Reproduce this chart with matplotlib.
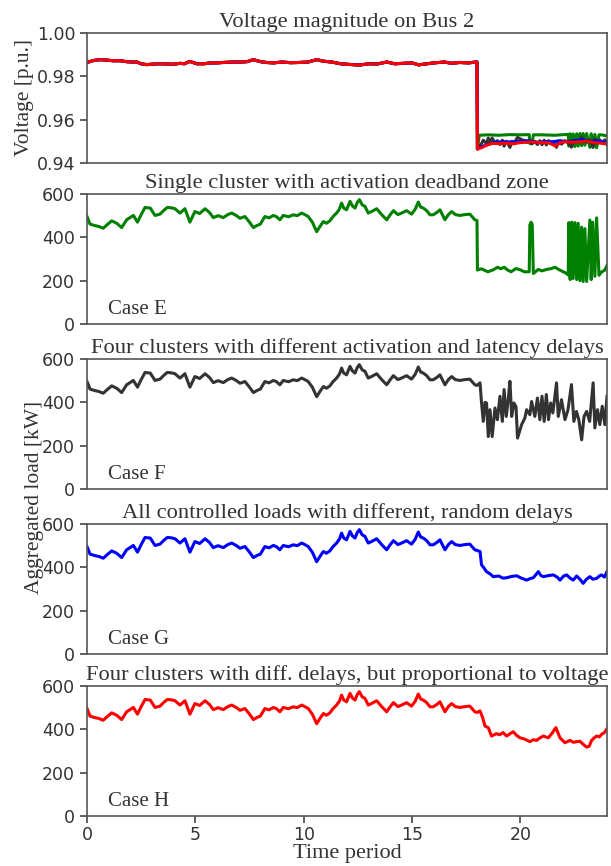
import matplotlib
matplotlib.use("Agg")
import matplotlib.pyplot as plt
import numpy as np

# ---------------- data ----------------
# common aggregated load before the event (kW)
base_t = [0.0, 0.14, 0.37, 0.55, 0.75, 0.95, 1.14, 1.37, 1.6, 1.83, 2.14, 2.33, 2.5, 2.68, 2.92,
          3.14, 3.37, 3.55, 3.71, 3.9, 4.06, 4.29, 4.52, 4.75, 4.98, 5.2, 5.45, 5.65, 5.83, 6.05,
          6.29, 6.5, 6.68, 6.9, 7.06, 7.29, 7.5, 7.68, 7.85, 8.0, 8.21, 8.4, 8.6, 8.75, 8.9, 9.06,
          9.3, 9.52, 9.7, 9.91, 10.05, 10.21, 10.4, 10.6, 10.75, 10.91, 11.05, 11.21, 11.35, 11.52,
          11.65, 11.75, 11.85, 11.98, 12.14, 12.25, 12.37, 12.47, 12.57, 12.7, 12.83, 12.98, 13.15,
          13.37, 13.6, 13.83, 14.0, 14.14, 14.35, 14.52, 14.75, 14.98, 15.15, 15.29, 15.4, 15.52,
          15.68, 15.83, 15.98, 16.15, 16.29, 16.4, 16.52, 16.68, 16.83, 17.0, 17.21, 17.45, 17.67,
          17.9, 18.0]
base_load = [496, 461, 454, 450, 442, 460, 476, 465, 445, 481, 501, 470, 505, 538, 535,
             501, 507, 525, 538, 536, 532, 512, 532, 470, 519, 510, 532, 515, 491, 500,
             491, 505, 512, 500, 488, 496, 470, 445, 455, 461, 496, 490, 501, 495, 481, 501,
             495, 504, 500, 512, 505, 496, 470, 426, 450, 473, 465, 476, 495, 512,
             530, 558, 535, 527, 566, 545, 535, 560, 574, 550, 543, 512, 520,
             532, 505, 481, 505, 523, 505, 512, 523, 507, 530, 563, 540, 535,
             523, 504, 504, 515, 527, 505, 481, 505, 519, 505, 501, 505, 507,
             481, 478]

# Case E: single cluster with activation deadband
e_t = [18.02, 18.2, 18.5, 18.75, 18.95, 19.1, 19.26, 19.4, 19.57, 19.8, 20.0, 20.18, 20.41, 20.44,
       20.5, 20.55, 20.6, 20.83, 21.0, 21.21, 21.4, 21.6, 21.8, 21.98, 22.1, 22.21, 22.24, 22.30,
       22.37, 22.44, 22.52, 22.6, 22.67, 22.75, 22.83, 22.9, 22.98, 23.06, 23.21, 23.27, 23.34,
       23.44, 23.52, 23.63, 23.75, 23.9, 24.0]
e_load = [249, 255, 241, 250, 262, 255, 262, 250, 241, 256, 250, 241, 241, 457,
          470, 457, 233, 252, 245, 252, 255, 262, 250, 241, 235, 226, 468, 205,
          470, 210, 468, 205, 465, 200, 447, 196, 440, 196, 480, 205, 470,
          220, 490, 225, 240, 249, 270]

# Case F: four clusters with activation and latency delays
f_t = [18.14, 18.21, 18.29, 18.37, 18.44, 18.52, 18.6, 18.7, 18.83, 18.94, 19.06, 19.17, 19.25,
       19.35, 19.44, 19.52, 19.6, 19.7, 19.8, 19.87, 20.06, 20.21, 20.29, 20.44, 20.52, 20.67,
       20.79, 20.9, 21.0, 21.1, 21.2, 21.3, 21.4, 21.5, 21.67, 21.75, 21.9, 22.06, 22.2, 22.36,
       22.47, 22.59, 22.7, 22.83, 22.94, 23.06, 23.2, 23.36, 23.44, 23.56, 23.67, 23.78, 23.9, 24.0]
f_load = [490, 397, 312, 400, 397, 242, 366, 242, 374, 320, 428, 312, 459,
          335, 412, 497, 335, 397, 380, 235, 297, 328, 366, 343, 404, 335,
          420, 320, 428, 312, 436, 320, 397, 351, 490, 335, 412, 320, 366, 482,
          312, 358, 320, 227, 335, 358, 312, 490, 282, 366, 297, 382, 297, 428]

# Case G: all controlled loads with random delays
g_t = [18.14, 18.21, 18.3, 18.44, 18.6, 18.75, 19.0, 19.2, 19.37, 19.6, 19.83, 20.05, 20.29, 20.45,
       20.6, 20.83, 20.95, 21.06, 21.3, 21.52, 21.7, 21.83, 22.0, 22.14, 22.3, 22.44, 22.6, 22.75,
       22.9, 23.05, 23.21, 23.35, 23.52, 23.65, 23.75, 23.88, 24.0]
g_load = [473, 411, 400, 380, 370, 357, 360, 350, 352, 358, 361, 350, 341, 348,
          352, 380, 362, 357, 362, 365, 355, 341, 360, 365, 350, 341, 360, 345,
          326, 345, 357, 345, 349, 360, 365, 355, 380]

# Case H: delays proportional to voltage
h_t = [18.14, 18.26, 18.37, 18.52, 18.67, 18.9, 19.05, 19.2, 19.37, 19.5, 19.67, 19.83, 19.98,
       20.2, 20.44, 20.6, 20.75, 20.9, 21.06, 21.29, 21.45, 21.64, 21.75, 21.83, 22.06, 22.29,
       22.45, 22.6, 22.75, 22.9, 23.06, 23.18, 23.29, 23.4, 23.52, 23.65, 23.75, 23.88, 23.98]
h_load = [485, 454, 415, 408, 369, 380, 375, 385, 369, 378, 389, 372, 361,
          355, 343, 352, 349, 360, 369, 361, 380, 408, 380, 361, 338, 349,
          340, 343, 345, 331, 318, 322, 349, 360, 369, 365, 377, 385, 400]

# voltage on bus 2 before the event (p.u.)
vbase_t = [0.0, 0.3, 0.61, 0.9, 1.2, 1.53, 1.8, 2.1, 2.3, 2.5, 2.75, 3.0, 3.3, 3.67, 4.0, 4.3, 4.5,
           4.75, 5.06, 5.4, 5.7, 5.98, 6.3, 6.75, 7.1, 7.4, 7.67, 8.0, 8.28, 8.6, 9.0, 9.4, 9.82,
           10.2, 10.6, 10.9, 11.3, 11.7, 12.1, 12.57, 13.0, 13.4, 13.83, 14.2, 14.6, 15.0, 15.3,
           15.7, 16.0, 16.5, 16.83, 17.2, 17.6, 17.95, 18.0]
vbase = [0.9864, 0.9873, 0.9877, 0.9875, 0.9872, 0.9872, 0.9868, 0.9866, 0.9866, 0.9858, 0.9854,
         0.9856, 0.9858, 0.9857, 0.9856, 0.9860, 0.9858, 0.9869, 0.9858, 0.9858, 0.9862, 0.9862,
         0.9864, 0.9866, 0.9866, 0.9868, 0.9877, 0.9868, 0.9864, 0.9862, 0.9866, 0.9863, 0.9864,
         0.9866, 0.9877, 0.9870, 0.9866, 0.9858, 0.9855, 0.9852, 0.9858, 0.9857, 0.9866, 0.9858,
         0.9860, 0.9862, 0.9853, 0.9858, 0.9862, 0.9866, 0.9860, 0.9864, 0.9862, 0.9866, 0.9866]

ve_t = [18.02, 18.1, 18.5, 19.0, 19.5, 20.0, 20.41, 20.44, 20.55, 20.6, 21.0, 21.6, 22.0, 22.21,
        22.24, 22.30, 22.37, 22.44, 22.52, 22.6, 22.67, 22.75, 22.83, 22.9, 22.98, 23.06, 23.21,
        23.27, 23.34, 23.44, 23.52, 23.63, 23.75, 24.0]
ve = [0.9465, 0.9528, 0.9530, 0.9528, 0.9531, 0.9530, 0.9531, 0.9490, 0.9490, 0.9530, 0.9530,
      0.9528, 0.9531, 0.9532, 0.9478, 0.9535, 0.9476, 0.9534, 0.9476, 0.9535, 0.9478, 0.9536,
      0.9480, 0.9536, 0.9482, 0.9536, 0.9472, 0.9535, 0.9475, 0.9532, 0.9470, 0.9530, 0.9530,
      0.9525]

vf_t = [18.02, 18.21, 18.29, 18.44, 18.52, 18.6, 18.7, 18.83, 18.94, 19.06, 19.17, 19.25, 19.35,
        19.44, 19.52, 19.6, 19.7, 19.87, 20.06, 20.21, 20.29, 20.44, 20.52, 20.67, 20.79, 20.9,
        21.0, 21.1, 21.2, 21.3, 21.4, 21.5, 21.67, 21.75, 21.9, 22.06, 22.2, 22.36, 22.47, 22.59,
        22.7, 22.83, 22.94, 23.06, 23.2, 23.36, 23.44, 23.56, 23.67, 23.78, 23.9, 24.0]
vf = [0.9465, 0.9490, 0.9505, 0.9490, 0.9515, 0.9495, 0.9515, 0.9493, 0.9503, 0.9485, 0.9505,
      0.9478, 0.9500, 0.9488, 0.9472, 0.9500, 0.9490, 0.9518, 0.9508, 0.9502, 0.9495, 0.9500,
      0.9488, 0.9500, 0.9485, 0.9503, 0.9484, 0.9505, 0.9483, 0.9503, 0.9490, 0.9497, 0.9472,
      0.9500, 0.9487, 0.9503, 0.9495, 0.9473, 0.9505, 0.9496, 0.9503, 0.9520, 0.9500, 0.9496,
      0.9505, 0.9472, 0.9510, 0.9495, 0.9507, 0.9492, 0.9507, 0.9485]

vg_t = [18.02, 18.2, 18.5, 18.8, 19.2, 19.6, 20.0, 20.3, 20.6, 20.83, 21.1, 21.5, 21.83, 22.14,
        22.44, 22.9, 23.2, 23.52, 23.75, 24.0]
vg = [0.9465, 0.9475, 0.9485, 0.9495, 0.9498, 0.9497, 0.9500, 0.9503, 0.9500, 0.9494, 0.9499,
      0.9498, 0.9503, 0.9498, 0.9503, 0.9507, 0.9500, 0.9502, 0.9498, 0.9495]

vh_t = [18.02, 18.2, 18.4, 18.67, 19.0, 19.37, 19.67, 19.98, 20.44, 20.75, 21.06, 21.29, 21.64,
        21.83, 22.06, 22.29, 22.6, 22.9, 23.06, 23.29, 23.52, 23.75, 24.0]
vh = [0.9465, 0.9470, 0.9480, 0.9490, 0.9490, 0.9492, 0.9488, 0.9494, 0.9497, 0.9496, 0.9493,
      0.9494, 0.9478, 0.9494, 0.9498, 0.9496, 0.9497, 0.9499, 0.9502, 0.9496, 0.9493, 0.9491,
      0.9488]

titles = ["Voltage magnitude on Bus 2",
          "Single cluster with activation deadband zone",
          "Four clusters with different activation and latency delays",
          "All controlled loads with different, random delays",
          "Four clusters with diff. delays, but proportional to voltage"]
case_labels = ["Case E", "Case F", "Case G", "Case H"]
colors = ["green", "#333333", "blue", "red"]

# ---------------- figure ----------------
TXT = "#333333"
plt.rcParams["font.family"] = "DejaVu Sans"
plt.rcParams["text.color"] = TXT
plt.rcParams["axes.labelcolor"] = TXT
plt.rcParams["xtick.color"] = TXT
plt.rcParams["ytick.color"] = TXT
SERIF = "Liberation Serif"

fig = plt.figure(figsize=(6.11, 8.66), dpi=100)
H = 866.0
W = 611.0
tops = [33, 194, 359, 524, 686]
left, right = 87, 607
axes = []
for tp in tops:
    ax = fig.add_axes([left / W, (H - tp - 130) / H, (right - left) / W, 130 / H])
    axes.append(ax)

for ax in axes:
    for s in ax.spines.values():
        s.set_color("#555555")
        s.set_linewidth(1.2)
    ax.set_xlim(0, 24)
    ax.tick_params(axis="y", labelsize=12.5, length=5, width=1.2, color="#444444")
    ax.tick_params(axis="x", labelsize=12.5, length=5, width=1.2, color="#444444", pad=2.5)

# voltage panel
ax = axes[0]
vt_all = [(ve_t, ve), (vf_t, vf), (vg_t, vg), (vh_t, vh)]
for (tt, vv), c in zip(vt_all, colors):
    ax.plot(vbase_t + tt, vbase + vv, color=c, lw=2.2)
ax.set_ylim(0.94, 1.0)
ax.set_yticks([0.94, 0.96, 0.98, 1.00])
ax.set_yticklabels(["0.94", "0.96", "0.98", "1.00"])
ax.set_ylabel("Voltage [p.u.]", family=SERIF, fontsize=15.5, color=TXT, labelpad=2)

load_tails = [(e_t, e_load), (f_t, f_load), (g_t, g_load), (h_t, h_load)]
for ax, (tt, ll), c, lab in zip(axes[1:], load_tails, colors, case_labels):
    ax.plot(base_t + tt, base_load + ll, color=c, lw=2.2)
    ax.set_ylim(0, 600)
    ax.set_yticks([0, 200, 400, 600])
    ax.text(0.04, 0.04, lab, transform=ax.transAxes, family=SERIF, fontsize=15,
            color=TXT, ha="left", va="bottom")

for i, (ax, t) in enumerate(zip(axes, titles)):
    ax.set_title(t, family=SERIF, fontsize=16.2, color=TXT, pad=4)
    if i < 4:
        ax.tick_params(axis="x", bottom=False, labelbottom=False)

axes[-1].set_xticks([0, 5, 10, 15, 20])
axes[-1].set_xlabel("Time period", family=SERIF, fontsize=16, color=TXT, labelpad=0)
fig.text(35 / W, 1 - 497 / H, "Aggregated load [kW]", family=SERIF, fontsize=15.5, color=TXT,
         rotation=90, ha="center", va="center")

fig.savefig("out.png", dpi=100)
